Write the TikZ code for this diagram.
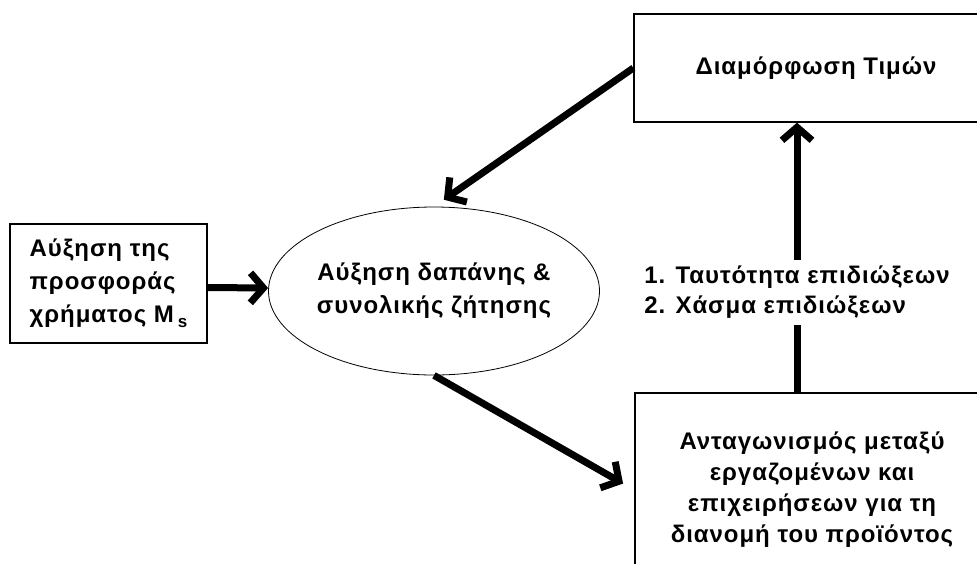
\documentclass[tikz,border=0pt]{standalone}
\usepackage{fontspec}
\setmainfont{Liberation Sans}[LetterSpace=4.0]
\usetikzlibrary{arrows.meta,shapes.geometric}

\tikzset{
    riquadro/.style={draw, line width=1.3pt, rectangle, font=\bfseries\fontsize{24}{31}\selectfont},
    ovale/.style={draw, line width=0.8pt, ellipse, inner sep=0pt, font=\bfseries\fontsize{24}{33}\selectfont},
    freccia/.style={line width=7pt, -{Straight Barb[length=13pt,width=30pt]}},
    etichetta/.style={fill=white, align=left, inner sep=6pt, font=\bfseries\fontsize{24}{30}\selectfont}
}

\begin{document}
\begin{tikzpicture}[x=1pt,y=-1pt]
    \useasboundingbox (0,0) rectangle (977,563);

    % Nodi
    \node[riquadro, align=left, minimum width=197pt, minimum height=119pt,
          font=\bfseries\fontsize{24}{33}\selectfont] (money) at (108.5,283.5)
        {Αύξηση της\\προσφοράς\\χρήματος M\,\raisebox{-5pt}{\fontsize{17}{17}\selectfont s}};
    \node[ovale, align=center, minimum width=318pt, minimum height=168pt] (spend) at (434,291)
        {Αύξηση δαπάνης \&\\συνολικής ζήτησης};
    \node[riquadro, minimum width=364pt, minimum height=108pt] (prices) at (816,68) {Διαμόρφωση Τιμών};
    \node[riquadro, align=center, minimum width=354pt, minimum height=194pt] (comp) at (812,490)
        {Ανταγωνισμός μεταξύ\\εργαζομένων και\\επιχειρήσεων για τη\\διανομή του προϊόντος};

    % Frecce
    \draw[freccia] ([yshift=-4pt]money.east) -- ([yshift=3pt]spend.west);
    \draw[freccia, shorten >=12pt] (prices.west) -- (spend.north);
    \draw[freccia, shorten >=13pt] (spend.south) -- (comp.west);
    \draw[freccia] ([xshift=-15pt]comp.north) -- ([xshift=-15pt]comp.north |- prices.south)
        node[etichetta, pos=0.37] (goals) {1. Ταυτότητα επιδιώξεων\\2. Χάσμα επιδιώξεων}; % Etichetta sulla freccia
\end{tikzpicture}
\end{document}
